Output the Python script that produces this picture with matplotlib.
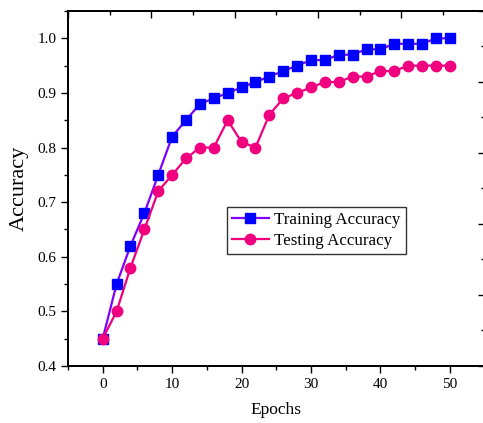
import matplotlib
matplotlib.use("Agg")
import matplotlib.pyplot as plt  # noqa: E402
from matplotlib.ticker import MultipleLocator  # noqa: E402

epochs = list(range(0, 51, 2))
train_acc = [0.45, 0.55, 0.62, 0.68, 0.75, 0.82, 0.85, 0.88, 0.89, 0.90, 0.91, 0.92, 0.93,
             0.94, 0.95, 0.96, 0.96, 0.97, 0.97, 0.98, 0.98, 0.99, 0.99, 0.99, 1.00, 1.00]
test_acc = [0.45, 0.50, 0.58, 0.65, 0.72, 0.75, 0.78, 0.80, 0.80, 0.85, 0.81, 0.80, 0.86,
            0.89, 0.90, 0.91, 0.92, 0.92, 0.93, 0.93, 0.94, 0.94, 0.95, 0.95, 0.95, 0.95]

plt.rcParams["font.family"] = "Liberation Serif"

fig = plt.figure(figsize=(4.83, 4.23), dpi=100)
# right edge sits just past the image border, as in the cropped original
ax = fig.add_axes([0.1408, 0.1348, 0.8624, 0.8392])

ax.plot(epochs, train_acc, color="#8000ff", lw=1.6, marker="s", ms=6.8,
        mfc="#0000ff", mec="#0000ff", label="Training Accuracy", zorder=3)
ax.plot(epochs, test_acc, color="#f0007f", lw=1.6, marker="o", ms=7.5,
        mfc="#f0007f", mec="#f0007f", label="Testing Accuracy", zorder=4)

ax.set_xlim(-5, 55)
ax.set_ylim(0.4, 1.05)
ax.xaxis.set_major_locator(MultipleLocator(10))
ax.xaxis.set_minor_locator(MultipleLocator(5))
ax.yaxis.set_major_locator(MultipleLocator(0.1))
ax.yaxis.set_minor_locator(MultipleLocator(0.05))
ax.tick_params(which="major", direction="out", length=5, width=1, labelsize=11)
ax.tick_params(which="minor", direction="out", length=3, width=1)
ax.set_xlabel("Epochs", fontsize=12.5, labelpad=8)
ax.set_ylabel("Accuracy", fontsize=16, labelpad=6)
for s in ax.spines.values():
    s.set_linewidth(1.2)

# twin axes (cropped in the original): only their inward ticks remain visible
axt = ax.twiny()
axt.set_xlim(0, 1)
axt.xaxis.set_major_locator(MultipleLocator(0.2))
axt.xaxis.set_minor_locator(MultipleLocator(0.1))
axt.tick_params(which="major", direction="in", length=5, width=1, labeltop=False)
axt.tick_params(which="minor", direction="in", length=3, width=1)
axr = ax.twinx()
axr.set_ylim(0, 1)
axr.yaxis.set_major_locator(MultipleLocator(0.2))
axr.yaxis.set_minor_locator(MultipleLocator(0.1))
axr.tick_params(which="major", direction="in", length=5, width=1, labelright=False)
axr.tick_params(which="minor", direction="in", length=3, width=1)
for a in (axt, axr):
    for s in a.spines.values():
        s.set_linewidth(1.2)

leg = ax.legend(loc="upper left", bbox_to_anchor=(0.381, 0.447), borderaxespad=0,
                fontsize=12.2, frameon=True, fancybox=False, edgecolor="black",
                handlelength=2.2, handletextpad=0.3, borderpad=0.3, labelspacing=0.25)
leg.get_frame().set_linewidth(1.0)
leg.set_zorder(10)

fig.savefig("out.png", dpi=100)
